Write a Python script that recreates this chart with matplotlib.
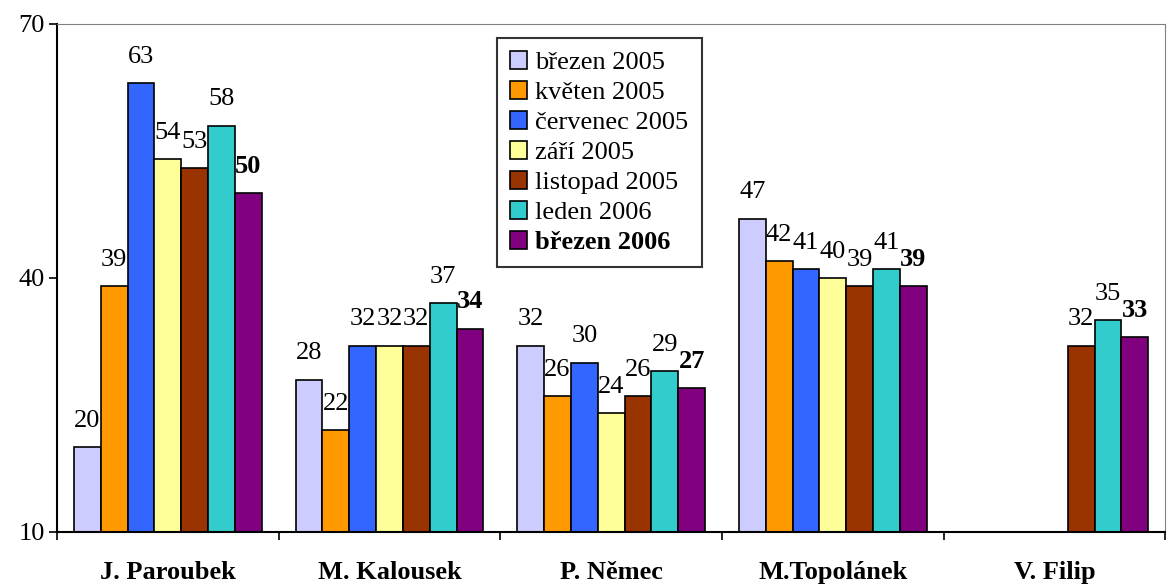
import numpy as np
import matplotlib.pyplot as plt

plt.rcParams['font.family'] = ['Liberation Serif', 'DejaVu Serif']

# Data
kandidati = ["J. Paroubek", "M. Kalousek", "P. Němec", "M.Topolánek", "V. Filip"]
obdobi = ["březen 2005", "květen 2005", "červenec 2005", "září 2005",
          "listopad 2005", "leden 2006", "březen 2006"]
brezen_2005 = [20, 28, 32, 47, np.nan]
kveten_2005 = [39, 22, 26, 42, np.nan]
cervenec_2005 = [63, 32, 30, 41, np.nan]
zari_2005 = [54, 32, 24, 40, np.nan]
listopad_2005 = [53, 32, 26, 39, 32]
leden_2006 = [58, 37, 29, 41, 35]
brezen_2006 = [50, 34, 27, 39, 33]

serie = [brezen_2005, kveten_2005, cervenec_2005, zari_2005,
         listopad_2005, leden_2006, brezen_2006]
barvy = ["#CCCCFF", "#FF9900", "#3366FF", "#FFFF99", "#993300", "#33CCCC", "#800080"]

fig = plt.figure(figsize=(11.69, 5.86), dpi=100)
ax = fig.add_axes([0.0488, 0.0922, 0.948, 0.867])

x = np.arange(len(kandidati))
w = 0.121
for i, (vals, c, name) in enumerate(zip(serie, barvy, obdobi)):
    pos = x + (i - 3) * w
    ax.bar(pos, vals, width=w, color=c, edgecolor="black", linewidth=1.2, label=name)
    for p, v in zip(pos, vals):
        if np.isnan(v):
            continue
        ax.annotate(f"{v:g}", (p, v), xytext=(0, 11), textcoords="offset points",
                    ha="center", va="bottom", fontsize=19,
                    fontweight="bold" if i == 6 else "normal")

ax.set_xlim(-0.5, 4.5)
ax.set_ylim(10, 70)
ax.set_yticks([10, 40, 70])
ax.tick_params(axis="y", labelsize=19, length=6, width=1.2, direction="out", pad=3)

ax.set_xticks(x)
ax.set_xticklabels(kandidati, fontsize=19, fontweight="bold")
ax.set_xticks(np.arange(-0.5, 5, 1), minor=True)
ax.tick_params(axis="x", which="major", length=0, pad=21)
ax.tick_params(axis="x", which="minor", length=6, width=1.2, direction="out")

ax.spines["left"].set_linewidth(1.5)
ax.spines["bottom"].set_linewidth(1.5)
ax.spines["top"].set_color("#808080")
ax.spines["right"].set_color("#808080")

leg = ax.legend(loc="upper left", bbox_to_anchor=(0.397, 0.972), fontsize=19,
                frameon=True, fancybox=False, edgecolor="black",
                handlelength=0.65, handleheight=0.65, handletextpad=0.3,
                labelspacing=0.26, borderpad=0.5, borderaxespad=0)
leg.get_frame().set_linewidth(1.5)
leg.get_texts()[-1].set_fontweight("bold")

fig.savefig("out.png", dpi=100)
